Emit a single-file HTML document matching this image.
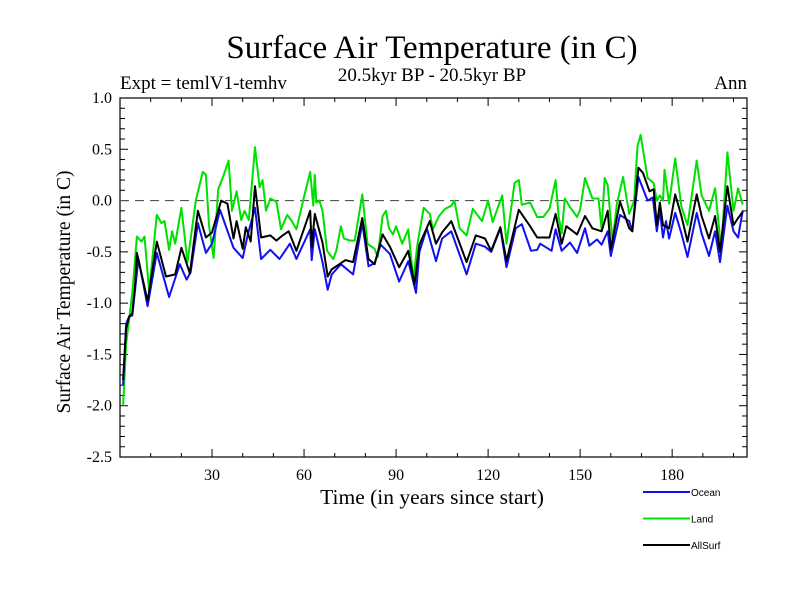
<!DOCTYPE html>
<html><head><meta charset="utf-8"><style>
body{margin:0;background:#fff;}
svg text{font-family:"Liberation Serif",serif;}
</style></head><body>
<svg id="chart" width="800" height="600" xmlns="http://www.w3.org/2000/svg">
<rect width="800" height="600" fill="#fff"/>
<text x="432" y="58" font-size="33" text-anchor="middle">Surface Air Temperature (in C)</text>
<text x="432" y="81" font-size="19" text-anchor="middle">20.5kyr BP - 20.5kyr BP</text>
<text x="120" y="89" font-size="19">Expt = temlV1-temhv</text>
<text x="747" y="89" font-size="19" text-anchor="end">Ann</text>
<text x="0" y="0" font-size="19.5" text-anchor="middle" transform="translate(70,292) rotate(-90)">Surface Air Temperature (in C)</text>
<text x="432" y="504" font-size="21.5" text-anchor="middle">Time (in years since start)</text>
<g id="axes"></g>
<g id="series"></g>
<g id="legend"></g>
</svg>
<script>
const xTicks=[30,60,90,120,150,180];
const yTicks=[1.0,0.5,0.0,-0.5,-1.0,-1.5,-2.0,-2.5];
const seriesNames=["Ocean","Land","AllSurf"];
const oceanYears=[1,2,3,4,5,6,9,12,16,19.5,21.7,23,25.4,28,30,32.6,37,40,41.6,44,46,49,52,55.4,57.5,62,62.5,63.5,66,67.7,69,72,76,79,81,83,85,88,91,94,96.5,97.6,100,103,105,108,113,116,119,121,124,126,129,131,134,136,137,140.7,142,144,146.7,149,151.6,153,155.5,157,159,160,163,166,167,169,172,173.7,175,176,177,178,179,181,183,185,188,189.6,192,194,195.6,198,200,201.5,203];
const oceanVals=[-1.8,-1.2,-1.13,-1.12,-0.85,-0.57,-1.03,-0.51,-0.94,-0.62,-0.77,-0.7,-0.22,-0.51,-0.42,-0.09,-0.46,-0.56,-0.34,-0.07,-0.57,-0.48,-0.57,-0.42,-0.57,-0.28,-0.58,-0.28,-0.6,-0.87,-0.72,-0.62,-0.72,-0.22,-0.64,-0.61,-0.43,-0.52,-0.79,-0.59,-0.9,-0.5,-0.27,-0.59,-0.37,-0.3,-0.72,-0.42,-0.45,-0.5,-0.27,-0.65,-0.27,-0.23,-0.49,-0.48,-0.42,-0.49,-0.28,-0.49,-0.41,-0.51,-0.27,-0.44,-0.38,-0.43,-0.3,-0.54,-0.14,-0.2,-0.3,0.23,0.0,0.03,-0.3,-0.1,-0.36,-0.2,-0.37,-0.12,-0.32,-0.55,-0.12,-0.32,-0.54,-0.3,-0.6,-0.05,-0.3,-0.36,-0.1];
const landYears=[1,2,3,4,5.5,7,8,9.5,12,13.5,14.5,16,17,18,20,22,24.7,27,28,29,30.5,32,33.7,35.4,36.5,38,39.5,40.6,42,44,45.5,46.5,47.6,49,51,52.5,54.5,56,57.5,60,62,63,63.5,64,65,66,67.5,69.5,70.5,72,73,75,76.5,79,80.7,83,84,85.6,86.7,87.7,89,90,92,94,95.6,97,99,101,102,104,106,108,109,110.7,113,115,118,120,121.5,124.6,126,128.6,130,131,133.7,136,138,140,142,143,144,145,146.6,149,150,151.6,154,156,157,158,159,160.6,162,164,166,167.6,168.7,169.7,172,174,175,176,177,177.5,179,181,183,185,188,189.6,192,194,196,198,200,201.5,203];
const landVals=[-2.0,-1.4,-1.15,-0.9,-0.35,-0.4,-0.35,-0.88,-0.14,-0.22,-0.2,-0.48,-0.3,-0.42,-0.07,-0.6,0.0,0.28,0.25,-0.24,-0.56,0.11,0.24,0.39,-0.1,0.09,-0.19,-0.1,-0.19,0.52,0.13,0.2,-0.1,0.02,-0.01,-0.28,-0.14,-0.2,-0.28,0.04,0.28,-0.05,0.25,-0.02,0.0,-0.1,-0.49,-0.57,-0.49,-0.25,-0.37,-0.39,-0.39,0.06,-0.42,-0.47,-0.55,-0.15,-0.1,-0.27,-0.33,-0.25,-0.42,-0.28,-0.77,-0.42,-0.07,-0.13,-0.28,-0.15,-0.08,-0.05,0.0,-0.27,-0.34,-0.08,-0.2,0.0,-0.21,0.05,-0.42,0.17,0.2,-0.04,-0.02,-0.16,-0.16,-0.08,0.2,-0.16,-0.32,0.02,-0.06,-0.16,-0.09,0.22,0.02,0.02,-0.28,0.22,0.15,-0.4,-0.03,0.23,-0.13,0.0,0.53,0.64,0.22,0.17,0.0,0.05,0.0,0.3,-0.03,0.41,-0.06,-0.24,0.39,0.05,-0.1,0.12,-0.48,0.47,-0.1,0.12,-0.04];
const allYears=[1,2,3,4,5,5.5,9,12,15,18,20,22.8,25.4,28,30,33,35,37,38,40,41,42.6,44,46,49,51,53,55,57.5,62,62.5,63.5,66,67.7,69,73.5,76,79,81,83,85.6,88,91,94,96,97.6,101,103,105,108,113,116,119,121,124,126,130,133.7,136,140,142,144,145.5,149,151.6,154,157,159,160,163,166,167,169,170.5,172.6,174,175,176,177,179,181,183,185,188,189.6,192,194,195.6,198,200,201.5,203];
const allVals=[-1.75,-1.25,-1.13,-1.1,-0.8,-0.51,-0.98,-0.4,-0.74,-0.72,-0.46,-0.71,-0.1,-0.36,-0.31,0.0,-0.03,-0.37,-0.2,-0.47,-0.26,-0.4,0.14,-0.36,-0.34,-0.39,-0.34,-0.3,-0.49,-0.1,-0.45,-0.13,-0.41,-0.74,-0.67,-0.58,-0.6,-0.17,-0.57,-0.62,-0.33,-0.45,-0.65,-0.49,-0.82,-0.43,-0.2,-0.42,-0.31,-0.2,-0.6,-0.34,-0.37,-0.49,-0.26,-0.59,-0.09,-0.25,-0.36,-0.36,-0.13,-0.42,-0.25,-0.33,-0.15,-0.27,-0.3,-0.1,-0.47,-0.01,-0.27,-0.3,0.32,0.27,0.09,0.11,-0.24,-0.02,-0.24,-0.27,0.06,-0.15,-0.4,0.06,-0.15,-0.37,-0.15,-0.5,0.14,-0.24,-0.17,-0.11];

const L=120,R=747,T=98,B=457,XMAX=204.4,YMIN=-2.5,YMAX=1.0;
const xs=v=>L+(v/XMAX)*(R-L);
const ys=v=>B-(v-YMIN)/(YMAX-YMIN)*(B-T);
const NS="http://www.w3.org/2000/svg";
function mk(tag,attrs,parent){const e=document.createElementNS(NS,tag);for(const k in attrs)e.setAttribute(k,attrs[k]);parent.appendChild(e);return e;}
const axes=document.getElementById('axes');
const frame=mk('rect',{x:L,y:T,width:R-L,height:B-T,fill:'none',stroke:'#000','stroke-width':1.2},axes);


for(let v=-25;v<=10;v++){const y=ys(v/10);const major=v%5===0;const len=major?8:5;
 const t1=mk('line',{x1:L,x2:L+len,y1:y,y2:y,stroke:'#000'},axes);
 
 
 const t2=mk('line',{x1:R-len,x2:R,y1:y,y2:y,stroke:'#000'},axes);
 
 }
yTicks.forEach(v=>{const t=mk('text',{x:112,y:ys(v)+5,'font-size':16,'text-anchor':'end'},axes);t.textContent=v.toFixed(1);
 
 });
for(let v=10;v<XMAX;v+=10){const x=xs(v);const major=v%30===0;const len=major?8:4;
 const t1=mk('line',{x1:x,x2:x,y1:B,y2:B-len,stroke:'#000'},axes);
 
 
 const t2=mk('line',{x1:x,x2:x,y1:T,y2:T+len,stroke:'#000'},axes);
 
 }
xTicks.forEach(v=>{const t=mk('text',{x:xs(v),y:480,'font-size':16,'text-anchor':'middle'},axes);t.textContent=v;
 
 });
const z=mk('line',{x1:L,x2:R,y1:ys(0),y2:ys(0),stroke:'#555','stroke-dasharray':'9,6','stroke-width':1.2},axes);



const sg=document.getElementById('series');
const data=[[landYears,landVals,'#00e000','land-line'],[oceanYears,oceanVals,'#1010f0','ocean-line'],[allYears,allVals,'#000','allsurf-line']];
data.forEach(d=>{const pts=d[0].map((yr,i)=>xs(yr).toFixed(1)+','+ys(d[1][i]).toFixed(1)).join(' ');
 const p=mk('polyline',{points:pts,fill:'none',stroke:d[2],'stroke-width':2,'stroke-linejoin':'round'},sg);
 
 });

const lg=document.getElementById('legend');
const lcol=['#1010f0','#00e000','#000'];
seriesNames.forEach((n,i)=>{const y=492+i*26.5;
 const l=mk('line',{x1:643,x2:690,y1:y,y2:y,stroke:lcol[i],'stroke-width':2},lg);
 
 
 const t=mk('text',{x:691,y:y+4,'font-size':10,style:'font-family:"Liberation Sans",sans-serif'},lg);t.textContent=n;
 
 });
</script>
</body></html>
